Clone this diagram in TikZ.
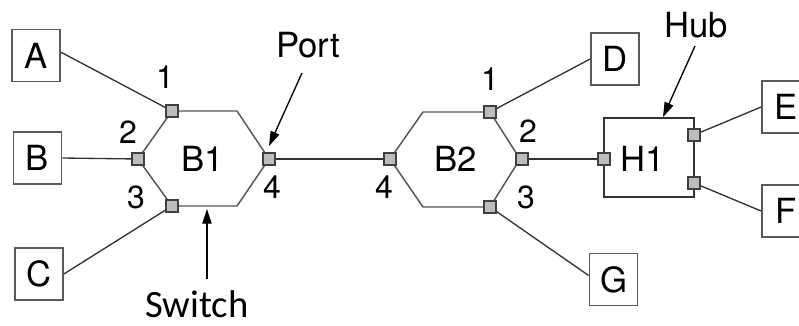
\documentclass[tikz,border=0pt]{standalone}
\usepackage{fontspec}
\setmainfont{TeX Gyre Heros}
\newfontfamily\calibri{Carlito}
\usetikzlibrary{arrows.meta,calc}
\definecolor{boxgray}{HTML}{5A5A5A}
\definecolor{linegray}{HTML}{333333}
\definecolor{hexgray}{HTML}{555555}
\definecolor{portfill}{HTML}{BDBDBD}
\tikzset{
  host/.style={draw=boxgray,line width=1.3pt,minimum width=36pt,minimum height=39pt,inner sep=0pt,font=\fontsize{26}{30}\selectfont},
  portsq/.style={draw=black!75,fill=portfill,line width=0.8pt,minimum size=9pt,inner sep=0pt},
  wire/.style={draw=linegray,line width=1pt},
  hexline/.style={draw=hexgray,line width=1.1pt},
  num/.style={font=\fontsize{24}{28}\selectfont,inner sep=0pt},
  big/.style={font=\fontsize{26}{30}\selectfont,inner sep=0pt},
  callout/.style={draw=black,line width=1pt,-{Triangle[length=11pt,width=7pt]}}
}
\begin{document}
\begin{tikzpicture}[x=0.75pt,y=-0.75pt]
\useasboundingbox (0,0) rectangle (799,325);
\clip (0,0) rectangle (799,325);
% hosts
\node[host] (A) at (36,55.5) {A};
\node[host] (B) at (37.5,158) {B};
\node[host] (C) at (39,274) {C};
\node[host] (D) at (615,59) {D};
\node[host] (G) at (613.5,279.5) {G};
\node[host] (E) at (786,107) {E};
\node[host] (F) at (786,211) {F};
% hexagon B1
\coordinate (h1a) at (138,159);
\coordinate (h1b) at (172,111);
\coordinate (h1c) at (237,111);
\coordinate (h1d) at (269,159);
\coordinate (h1e) at (237,206);
\coordinate (h1f) at (172,206);
\draw[hexline] (h1a) -- (h1b) -- (h1c) -- (h1d) -- (h1e) -- (h1f) -- cycle;
\node[big] (B1) at (203,159) {B1};
% hexagon B2
\coordinate (h2a) at (390,159);
\coordinate (h2b) at (423,112);
\coordinate (h2c) at (490,112);
\coordinate (h2d) at (520,159);
\coordinate (h2e) at (490,207);
\coordinate (h2f) at (423,207);
\draw[hexline] (h2a) -- (h2b) -- (h2c) -- (h2d) -- (h2e) -- (h2f) -- cycle;
\node[big] (B2) at (456,159) {B2};
% hub
\node[draw=linegray,line width=1.1pt,minimum width=67.5pt,minimum height=59.25pt,inner sep=0pt] (H) at (649,157.5) {};
\node[big] (Hl) at (643,159) {H1};
% port positions
\coordinate (p11) at (172,111);
\coordinate (p12) at (138,159);
\coordinate (p13) at (172,206);
\coordinate (p14) at (269,159);
\coordinate (p21) at (490,112);
\coordinate (p22) at (522,159);
\coordinate (p23) at (490,207);
\coordinate (p24) at (390,159);
\coordinate (ph0) at (604,159);
\coordinate (ph1) at (694,135);
\coordinate (ph2) at (694,183);
% wires
\draw[wire] ([yshift=2.5pt]A.east) -- (p11);
\draw[wire] (B.east) -- (p12);
\draw[wire] (C.east) -- (p13);
\draw[wire] (p14) -- (p24);
\draw[wire] (D.west) -- (p21);
\draw[wire] ([yshift=3pt]G.west) -- (p23);
\draw[wire] (p22) -- (ph0);
\draw[wire] (E.west) -- (ph1);
\draw[wire] (F.west) -- (ph2);
% port squares on top
\foreach \p in {p11,p12,p13,p14,p21,p22,p23,p24,ph0,ph1,ph2}
  \node[portsq] (sq\p) at (\p) {};
% port numbers
\node[num] (n11) at (165,77) {1};
\node[num] (n12) at (128,132) {2};
\node[num] (n13) at (136,197) {3};
\node[num] (n14) at (272,187) {4};
\node[num] (n21) at (490,79) {1};
\node[num] (n22) at (528,131) {2};
\node[num] (n23) at (526,197) {3};
\node[num] (n24) at (384,187) {4};
% callouts
\node[big] (port) at (308,45) {Port};
\coordinate (portfrom) at (302,73);
\coordinate (porttip) at (269,146);
\draw[callout] (portfrom) -- (porttip);
\node[big] (hub) at (696,25) {Hub};
\coordinate (hubfrom) at (695,46);
\coordinate (hubtip) at (663,117);
\draw[callout] (hubfrom) -- (hubtip);
\node[anchor=base,inner sep=0pt,font=\calibri\fontsize{29}{33}\selectfont] (sw) at (197,317) {Switch};
\coordinate (swfrom) at (207,279);
\coordinate (swtip) at (207,209);
\draw[callout] (swfrom) -- (swtip);
\end{tikzpicture}
\end{document}
